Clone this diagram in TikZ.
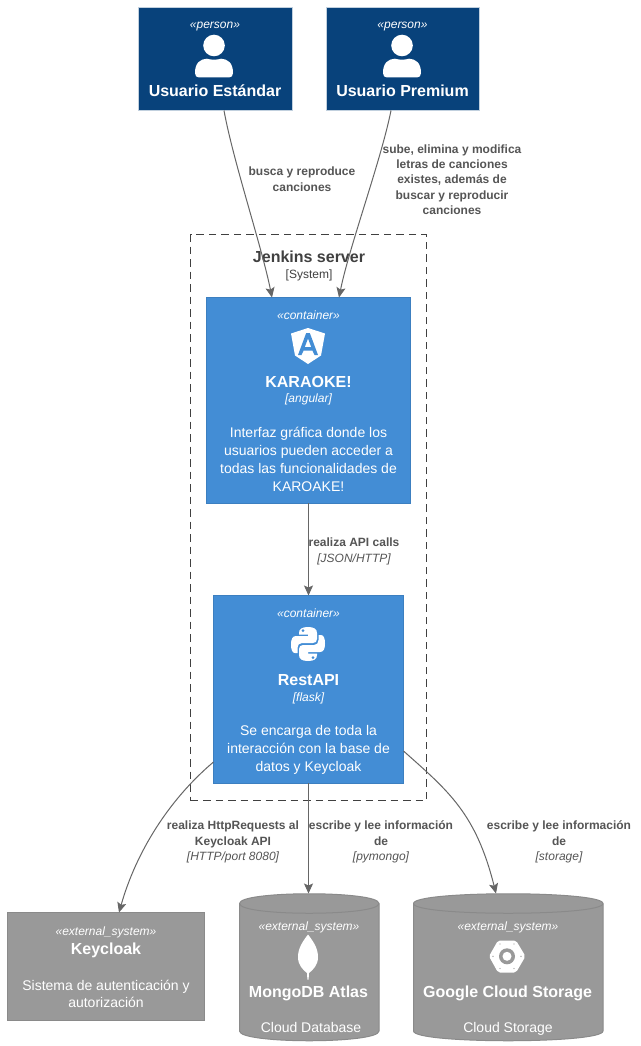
\documentclass[tikz,border=0pt]{standalone}
\usepackage{fontspec}
\setmainfont{Liberation Sans}
\usetikzlibrary{arrows.meta,calc}
\definecolor{persona}{HTML}{08427B}
\definecolor{contblue}{HTML}{438DD5}
\definecolor{contedge}{HTML}{3C7FC0}
\definecolor{extgray}{HTML}{999999}
\definecolor{edgeg}{HTML}{666666}
\definecolor{labelg}{HTML}{555555}
\tikzset{
 persbox/.style={fill=persona,draw=white!75!persona,line width=1pt},
 contbox/.style={fill=contblue,draw=contedge,line width=1pt},
 extbox/.style={fill=extgray,draw=black!10!extgray,line width=1pt},
 txt/.style={anchor=base,inner sep=0pt,outer sep=0pt,text=white},
 stereo/.style={txt,font=\fontsize{12}{14}\selectfont\itshape},
 titl/.style={txt,font=\fontsize{16}{18}\selectfont\bfseries},
 desc/.style={txt,font=\fontsize{14}{16}\selectfont},
 rel/.style={anchor=base,inner sep=0pt,outer sep=0pt,text=labelg,align=center,font=\fontsize{12}{15.3}\selectfont\bfseries},
 relt/.style={anchor=base,inner sep=0pt,outer sep=0pt,text=labelg,font=\fontsize{12}{14}\selectfont\itshape},
 conn/.style={draw=edgeg,line width=1pt,-{Stealth[length=10pt,width=9pt,inset=2pt]}},
 icon/.style={fill=white,draw=none}
}
\newcommand{\boxnode}[7]{\node[#1,minimum width=#6pt-#4pt,minimum height=#7pt-#5pt,inner sep=0pt,outer sep=0pt,anchor=north west] (#2) at (#4,#5) {#3};}
\newcommand{\personicon}[1]{%
 \fill[icon] (#1,45.5) circle[radius=10.8];
 \fill[icon,shift={(#1,0)}] (-19,73) .. controls (-19,63) and (-14,59) .. (-7,58.7) .. controls (-3,60) and (3,60) .. (7,58.7) .. controls (14,59) and (19,63) .. (19,73) .. controls (19,76) and (17.5,77.5) .. (15,77.5) -- (-15,77.5) .. controls (-17.5,77.5) and (-19,76) .. (-19,73) -- cycle;}
\newcommand{\cylinder}[5]{% name, x0, x1, y0, y1
 \node[inner sep=0pt,outer sep=0pt,minimum width=#3pt-#2pt,minimum height=#5pt-#4pt,anchor=north west] (#1) at (#2,#4) {};
 \draw[extbox] (#2,#4+10) .. controls (#2,#4-3) and (#3,#4-3) .. (#3,#4+10) -- (#3,#5-10) .. controls (#3,#5+3) and (#2,#5+3) .. (#2,#5-10) -- cycle;
 \draw[draw=black!10!extgray,line width=1pt] (#2,#4+10) .. controls (#2,#4+23) and (#3,#4+23) .. (#3,#4+10);}
\begin{document}
\begin{tikzpicture}[x=1pt,y=-1pt]
\useasboundingbox[fill=white] (0,0) rectangle (640,1046);
% boundary
\node[draw=black!75,dashed,dash pattern=on 7.5pt off 5pt,line width=1pt,minimum width=236pt,minimum height=566pt,inner sep=0pt,outer sep=0pt,anchor=north west] (sys) at (190.5,234.5) {};
\node[anchor=base,inner sep=0pt,text=black!75,font=\fontsize{16}{18}\selectfont\bfseries] (systitle) at (309,262) {Jenkins server};
\node[anchor=base,inner sep=0pt,text=black!75,font=\fontsize{12}{14}\selectfont] (systype) at (309,278) {[System]};
% persons
\boxnode{persbox}{p1}{}{138.5}{7.5}{292}{110.5}
\boxnode{persbox}{p2}{}{326.5}{7.5}{479}{110.5}
\node[stereo] (p1s) at (215,29) {«person»};
\node[stereo] (p2s) at (402.5,29) {«person»};
\personicon{214}
\personicon{402}
\node[titl] (p1t) at (215,97) {Usuario Estándar};
\node[titl] (p2t) at (402.5,97) {Usuario Premium};
% karaoke
\boxnode{contbox}{c1}{}{206.5}{297.5}{410.5}{503}
\node[stereo] (c1s) at (308.5,319) {«container»};
\fill[icon] (308,328) -- (291,333.5) -- (295,355.5) -- (308,364) -- (321,355.5) -- (325,333.5) -- cycle;
\fill[contblue,even odd rule] (306.2,333) -- (309.8,333) -- (318,355) -- (314.5,355) -- (312.4,350.5) -- (303.6,350.5) -- (301.5,355) -- (298,355) -- cycle (308,338.5) -- (311.2,347) -- (304.8,347) -- cycle;
\node[titl] (c1t) at (308.5,387) {KARAOKE!};
\node[stereo] (c1k) at (308.5,402) {[angular]};
\node[desc] (c1d1) at (308.5,437) {Interfaz gráfica donde los};
\node[desc] (c1d2) at (308.5,455) {usuarios pueden acceder a};
\node[desc] (c1d3) at (308.5,473) {todas las funcionalidades de};
\node[desc] (c1d4) at (308.5,491) {KAROAKE!};
% restapi
\boxnode{contbox}{c2}{}{213.5}{595.5}{403.5}{783}
\node[stereo] (c2s) at (308.5,617) {«container»};
\def\snake{(299,633) .. controls (299,629) and (302,627) .. (308,627) .. controls (314,627) and (317,629) .. (317,633) -- (317,639) .. controls (317,641.5) and (315.5,643) .. (313,643) -- (302,643) .. controls (299,643) and (297.5,645) .. (297.5,648) -- (297.5,653) -- (295,653) .. controls (292.5,653) and (291,650) .. (291,644.5) .. controls (291,639) and (292.5,636) .. (296,636) -- (308,636) -- (308,634.5) -- (299,634.5) -- cycle}
\fill[icon] \snake;
\fill[icon,shift={(616,1288)},xscale=-1,yscale=-1] \snake;
\fill[contblue] (303,630.5) circle[radius=1.5] (313,657.5) circle[radius=1.5];
\node[titl] (c2t) at (308.5,685) {RestAPI};
\node[stereo] (c2k) at (308.5,701) {[flask]};
\node[desc] (c2d1) at (308.5,735) {Se encarga de toda la};
\node[desc] (c2d2) at (308.5,753) {interacción con la base de};
\node[desc] (c2d3) at (308.5,771) {datos y Keycloak};
% keycloak
\boxnode{extbox}{k}{}{7.5}{912.5}{204.5}{1020}
\node[stereo] (ks) at (106,935) {«external\_system»};
\node[titl] (kt) at (106,954) {Keycloak};
\node[desc] (kd1) at (106,990) {Sistema de autenticación y};
\node[desc] (kd2) at (106,1007) {autorización};
% mongo
\cylinder{m}{239.5}{379}{893.5}{1041}
\node[stereo] (ms) at (309,930) {«external\_system»};
\fill[icon] (308,934.5) .. controls (313,941) and (318,948) .. (318,957) .. controls (318,965) and (313,970) .. (309,973) -- (308.6,979.5) -- (307.4,979.5) -- (307,973) .. controls (303,970) and (298,965) .. (298,957) .. controls (298,948) and (303,941) .. (308,934.5) -- cycle;
\node[titl] (mt) at (308.5,997) {MongoDB Atlas};
\node[desc] (md) at (311,1032) {Cloud Database};
% gcs
\cylinder{g}{413.5}{603}{893.5}{1041}
\node[stereo] (gs) at (508,930) {«external\_system»};
\fill[icon,rounded corners=2pt] (489,956.3) -- (498,940.5) -- (516,940.5) -- (525.5,956.3) -- (516,972.5) -- (498,972.5) -- cycle;
\fill[extgray] (507,956.3) circle[radius=8];
\fill[icon] (507,956.3) circle[radius=4.5];
\fill[extgray] (493,956.3) circle[radius=.7] (500,944) circle[radius=.7] (514,944) circle[radius=.7] (521,956.3) circle[radius=.7] (514,968.5) circle[radius=.7] (500,968.5) circle[radius=.7];
\node[titl] (gt) at (507.5,997) {Google Cloud Storage};
\node[desc] (gd) at (508,1032) {Cloud Storage};
% connectors
\draw[conn] ([xshift=85.5pt]p1.south west) .. controls +(9,50) and +(-10,-50) .. ([xshift=65.5pt]c1.north west);
\draw[conn] ([xshift=64.5pt]p2.south west) .. controls +(-10,50) and +(10,-50) .. ([xshift=132.5pt]c1.north west);
\draw[conn] (c1.south) -- (c2.north);
\draw[conn] ([yshift=21pt]c2.south west) .. controls +(-45,38) and +(17,-60) .. ([xshift=111.5pt]k.north west);
\draw[conn] (c2.south) -- (c2.south |- m.north);
\draw[conn] ([yshift=32pt]c2.south east) .. controls +(45,40) and +(-20,-80) .. ([xshift=82.5pt]g.north west);
% labels
\node[rel] (l1) at (302,191) {busca y reproduce\\canciones};
\node[rel] (l2) at (452,214.5) {sube, elimina y modifica\\letras de canciones\\existes, además de\\buscar y reproducir\\canciones};
\node[rel] (l3) at (354,546) {realiza API calls};
\node[relt] (l3t) at (354,562) {[JSON/HTTP]};
\node[rel] (l4) at (233,845) {realiza HttpRequests al\\Keycloak API};
\node[relt] (l4t) at (233,860) {[HTTP/port 8080]};
\node[rel] (l5) at (381,845) {escribe y lee información\\de};
\node[relt] (l5t) at (381,860) {[pymongo]};
\node[rel] (l6) at (559,845) {escribe y lee información\\de};
\node[relt] (l6t) at (559,860) {[storage]};
\end{tikzpicture}
\end{document}
